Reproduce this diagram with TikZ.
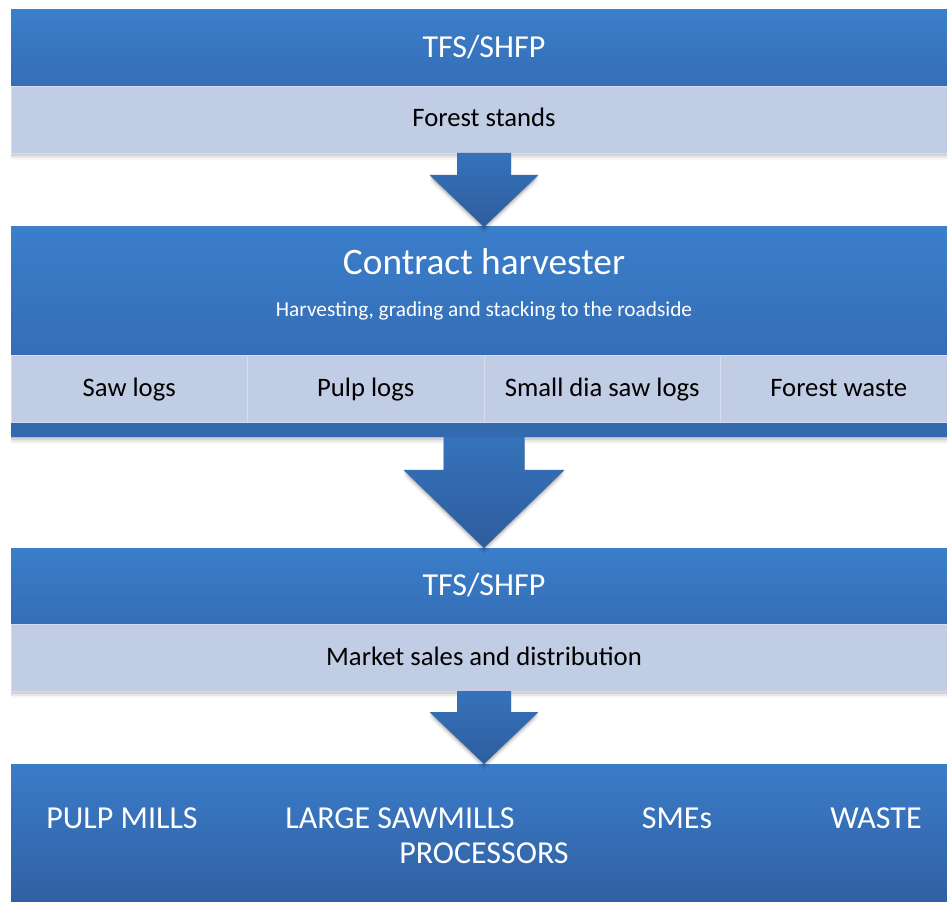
\documentclass[tikz,border=0pt]{standalone}
\usepackage{fontspec}
\setmainfont{Carlito}
\usetikzlibrary{calc,shadows}
\definecolor{hdrtop}{RGB}{59,126,202}
\definecolor{hdrbot}{RGB}{53,110,183}
\definecolor{band}{RGB}{193,205,228}
\definecolor{bandline}{RGB}{214,222,238}
\definecolor{arrtop}{RGB}{54,114,186}
\definecolor{arrbot}{RGB}{46,93,158}
\definecolor{stripc}{RGB}{51,105,174}
\definecolor{bottop}{RGB}{59,124,201}
\definecolor{botbot}{RGB}{48,96,162}
\begin{document}
\begin{tikzpicture}[x=0.75pt,y=-0.75pt,
  hdr/.style={rectangle, inner sep=0pt, outer sep=0pt, top color=hdrtop, bottom color=hdrbot, minimum width=709.5pt, anchor=north west},
  bandbox/.style={rectangle, inner sep=0pt, outer sep=0pt, fill=band, draw=bandline, line width=0.6pt, anchor=north west},
  shad/.style={drop shadow={shadow xshift=0pt, shadow yshift=-1pt, opacity=0.12, fill=black},
               drop shadow={shadow xshift=0pt, shadow yshift=-2.2pt, opacity=0.09, fill=black},
               drop shadow={shadow xshift=0pt, shadow yshift=-3.6pt, opacity=0.06, fill=black},
               drop shadow={shadow xshift=0pt, shadow yshift=-5pt, opacity=0.03, fill=black}},
  wtxt/.style={text=white, anchor=base, inner sep=0pt},
  btxt/.style={text=black, anchor=base, inner sep=0pt},
  blockarr/.style={top color=arrtop, bottom color=arrbot, shad},
  big/.style={font=\fontsize{24}{28}\selectfont},
  mid/.style={font=\fontsize{20}{24}\selectfont}]
\useasboundingbox (0,0) rectangle (947,902);
\fill[white] (0,0) rectangle (947,902);

% Box 1
\node[hdr, shad, minimum height=57pt] (h1) at (11,10) {};
\node[bandbox, shad, minimum width=709.5pt, minimum height=50.25pt] (l1) at (11,86) {};
\node[wtxt, big] (t1) at (484,58) {TFS/SHFP};
\node[btxt, mid] (t2) at (484,127) {Forest stands};

% Box 2
\node[hdr, minimum height=96pt] (h2) at (11,227) {};
\node[rectangle, fill=stripc, shad, inner sep=0pt, outer sep=0pt, minimum width=709.5pt, minimum height=11.25pt, anchor=north west] (s2) at (11,422) {};
\node[bandbox, minimum width=177.375pt, minimum height=50.25pt] (c1) at (11,355) {};
\node[bandbox, minimum width=177.375pt, minimum height=50.25pt] (c2) at (247.5,355) {};
\node[bandbox, minimum width=177.375pt, minimum height=50.25pt] (c3) at (484,355) {};
\node[bandbox, minimum width=177.375pt, minimum height=50.25pt] (c4) at (720.5,355) {};
\node[wtxt, font=\fontsize{28}{32}\selectfont] (t3) at (484,275) {Contract harvester};
\node[wtxt, font=\fontsize{16}{19}\selectfont] (t4) at (484,317) {Harvesting, grading and stacking to the roadside};
\node[btxt, mid] (t5) at (129.25,397) {Saw logs};
\node[btxt, mid] (t6) at (365.75,397) {Pulp logs};
\node[btxt, mid] (t7) at (602.25,397) {Small dia saw logs};
\node[btxt, mid] (t8) at (838.75,397) {Forest waste};

% Box 3
\node[hdr, shad, minimum height=57pt] (h3) at (11,548) {};
\node[bandbox, shad, minimum width=709.5pt, minimum height=50.25pt] (l3) at (11,624) {};
\node[wtxt, big] (t9) at (484,595) {TFS/SHFP};
\node[btxt, mid] (t10) at (484,665) {Market sales and distribution};

% Box 4
\node[rectangle, inner sep=0pt, outer sep=0pt, top color=bottop, bottom color=botbot, minimum width=709.5pt, minimum height=103.5pt, anchor=north west] (b4) at (11,764) {};
\node[wtxt, big] (u1) at (122,828) {PULP MILLS};
\node[wtxt, big] (u2) at (400,828) {LARGE SAWMILLS};
\node[wtxt, big] (u3) at (677,828) {SMEs};
\node[wtxt, big] (u4) at (876,828) {WASTE};
\node[wtxt, big] (u5) at (484,863) {PROCESSORS};

% Block arrows
\path[blockarr] ($(l1.south)+(-27,0)$) -- ($(l1.south)+(27,0)$) -- ($(h2.north)+(27,-52)$) -- ($(h2.north)+(54.5,-52)$) -- (h2.north) -- ($(h2.north)+(-54.5,-52)$) -- ($(h2.north)+(-27,-52)$) -- cycle;
\path[blockarr] ($(s2.south)+(-40.5,0)$) -- ($(s2.south)+(40.5,0)$) -- ($(h3.north)+(40.5,-78)$) -- ($(h3.north)+(80.5,-78)$) -- (h3.north) -- ($(h3.north)+(-80.5,-78)$) -- ($(h3.north)+(-40.5,-78)$) -- cycle;
\path[blockarr] ($(l3.south)+(-27,0)$) -- ($(l3.south)+(27,0)$) -- ($(b4.north)+(27,-52)$) -- ($(b4.north)+(54.5,-52)$) -- (b4.north) -- ($(b4.north)+(-54.5,-52)$) -- ($(b4.north)+(-27,-52)$) -- cycle;
\end{tikzpicture}
\end{document}
